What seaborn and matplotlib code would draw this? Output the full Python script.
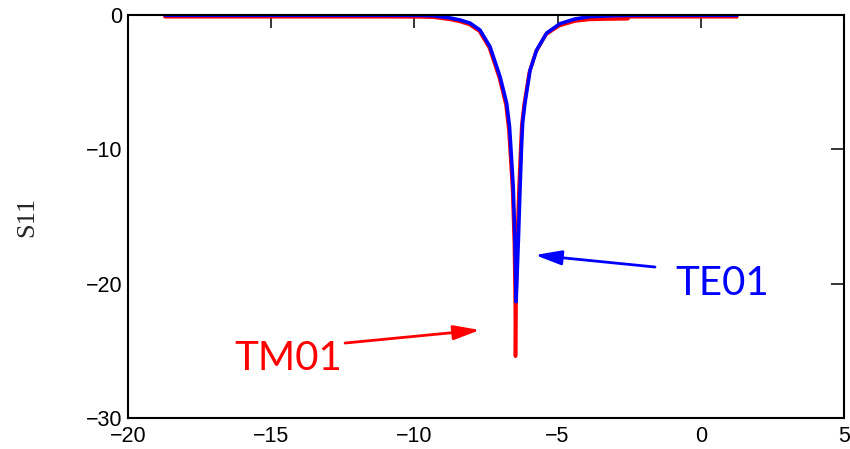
import matplotlib
matplotlib.use("Agg")
import matplotlib.pyplot as plt
import seaborn as sns
import pandas as pd

# TE01 (blue) trace
x_te = [-18.71, -14.0, -11.0, -9.8, -9.35, -9.11, -8.75, -8.41, -8.06, -7.71, -7.36, -7.01,
        -6.78, -6.68, -6.62, -6.55, -6.49, -6.45, -6.37, -6.31, -6.26, -6.22, -6.14, -5.96,
        -5.73, -5.38, -4.92, -4.4, -3.87, -3.0, -2.12, 0.0, 1.26]
y_te = [-0.02, -0.02, -0.02, -0.03, -0.05, -0.12, -0.22, -0.37, -0.60, -1.12, -2.36, -4.59,
        -6.56, -8.3, -10.3, -12.8, -16.75, -21.35, -16.75, -12.8, -9.8, -8.0, -6.56, -4.1,
        -2.6, -1.34, -0.65, -0.3, -0.12, -0.05, -0.02, -0.02, -0.02]

# TM01 (red) trace
x_tm = [-18.71, -14.0, -11.0, -9.8, -9.35, -9.13, -8.77, -8.43, -8.08, -7.73, -7.38, -7.03,
        -6.80, -6.70, -6.64, -6.57, -6.51, -6.48, -6.47, -6.45, -6.41, -6.35, -6.29, -6.25,
        -6.17, -5.99, -5.76, -5.41, -4.95, -4.4, -3.9, -3.3, -2.55, -2.5, -2.12, 0.0, 1.26]
y_tm = [-0.13, -0.13, -0.13, -0.14, -0.16, -0.22, -0.32, -0.47, -0.7, -1.2, -2.45, -4.7,
        -6.7, -8.6, -10.6, -13.1, -17.0, -21.3, -25.4, -21.0, -17.0, -13.0, -10.0, -8.2,
        -6.7, -4.3, -2.75, -1.45, -0.8, -0.45, -0.33, -0.3, -0.28, -0.13, -0.13, -0.13, -0.13]

x_ticks = [-20, -15, -10, -5, 0, 5]
y_ticks = [-30, -20, -10, 0]
y_label = "S11"
labels = ["TM01", "TE01"]
colors = {"TM01": "red", "TE01": "blue"}

sns.set_theme(style="white")
plt.rcParams["font.family"] = ["Liberation Sans", "DejaVu Sans"]

df = pd.concat([
    pd.DataFrame({"x": x_tm, "y": y_tm, "mode": "TM01"}),
    pd.DataFrame({"x": x_te, "y": y_te, "mode": "TE01"}),
], ignore_index=True)

fig = plt.figure(figsize=(8.5, 4.49), dpi=100)
ax = fig.add_axes([128 / 850, 1 - 418 / 449, (844 - 128) / 850, (418 - 15) / 449])

sns.lineplot(data=df, x="x", y="y", hue="mode", hue_order=labels, palette=colors,
             sort=False, estimator=None, units="mode", legend=False, linewidth=2.6, ax=ax)

ax.set_xlim(-20, 5)
ax.set_ylim(-30, 0)
ax.set_xticks(x_ticks)
ax.set_yticks(y_ticks)
ax.tick_params(direction="in", length=9.5, width=1.1, top=True, right=True,
               labelsize=15.5, colors="black", pad=6)
ax.tick_params(axis="y", pad=4)
for s in ax.spines.values():
    s.set_visible(True)
    s.set_color("black")
    s.set_linewidth(1.5)

ax.set_xlabel("")
ax.set_ylabel(y_label, fontsize=19, family=["Liberation Serif", "DejaVu Serif"])
ax.yaxis.set_label_coords(-0.125, 0.5)

ax.annotate("", xy=(-7.71, -23.45), xytext=(-12.42, -24.42),
            arrowprops=dict(arrowstyle="-|>,head_length=0.8,head_width=0.22",
                            color="red", lw=2, mutation_scale=20, shrinkA=0, shrinkB=0))
ax.annotate("", xy=(-5.79, -17.87), xytext=(-1.60, -18.76),
            arrowprops=dict(arrowstyle="-|>,head_length=0.8,head_width=0.22",
                            color="blue", lw=2, mutation_scale=20, shrinkA=0, shrinkB=0))
ax.text(-14.41, -25.54, "TM01", color="red", fontsize=29, ha="center", va="center",
        family=["Lato", "DejaVu Sans"])
ax.text(0.76, -19.96, "TE01", color="blue", fontsize=29, ha="center", va="center",
        family=["Lato", "DejaVu Sans"])

fig.savefig("out.png", dpi=100, facecolor="white")
